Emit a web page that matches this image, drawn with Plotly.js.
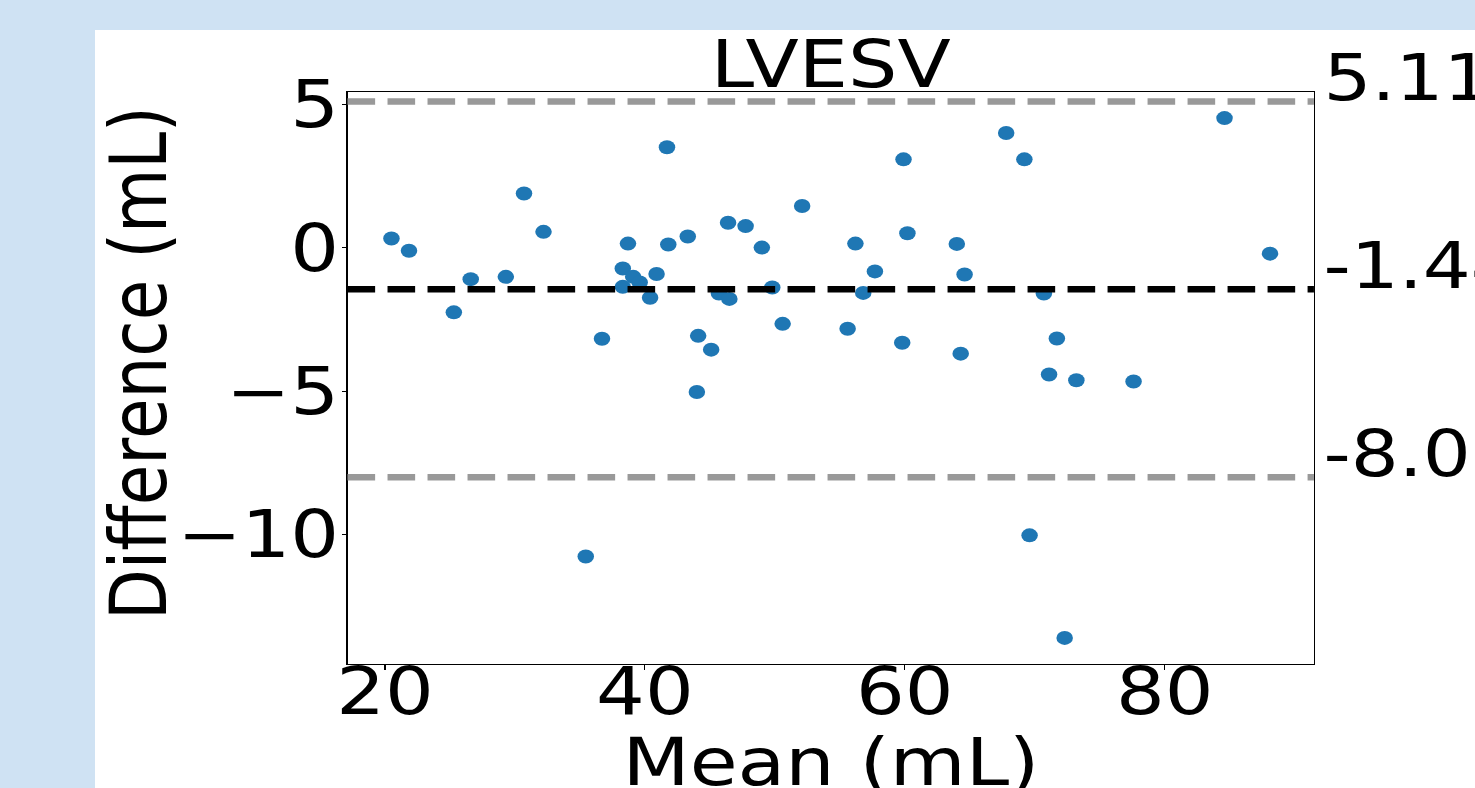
<!DOCTYPE html>
<html>
<head>
<meta charset="utf-8">
<script src="https://cdn.plot.ly/plotly-3.0.1.min.js"></script>
<style>
  html, body { margin: 0; padding: 0; width: 1475px; height: 788px; overflow: hidden; background: #cfe2f3; }
  #wrap { position: absolute; left: 95px; top: 30px; width: 1170px; height: 758px;
          transform: scaleX(1.18); transform-origin: 0 0; }
  #chart { width: 1170px; height: 758px; }
</style>
</head>
<body>
<div id="wrap"><div id="chart"></div></div>
<script>
// ---- data ----
const meanValues = [20.5, 21.85, 25.3, 26.6, 29.3, 30.7, 32.2, 35.45, 36.7, 38.3,
                    38.3, 38.7, 39.1, 39.6, 40.4, 40.9, 41.7, 41.8, 43.3, 44.0,
                    44.1, 45.1, 45.7, 46.4, 46.5, 47.75, 49.0, 49.8, 50.6, 52.1,
                    55.6, 56.2, 56.8, 57.7, 59.8, 59.9, 60.2, 64.0, 64.3, 64.6,
                    67.8, 69.2, 69.6, 70.7, 71.1, 71.7, 72.3, 73.2, 77.6, 84.6, 88.1];
const diffValues = [0.33, -0.10, -2.25, -1.09, -1.01, 1.90, 0.56, -10.77, -3.17, -0.72,
                    -1.36, 0.15, -1.01, -1.21, -1.74, -0.91, 3.51, 0.12, 0.40, -5.03,
                    -3.07, -3.55, -1.59, 0.88, -1.78, 0.76, 0.01, -1.38, -2.65, 1.46,
                    -2.82, 0.15, -1.57, -0.82, -3.31, 3.09, 0.51, 0.14, -3.69, -0.93,
                    4.01, 3.09, -10.03, -1.59, -4.42, -3.16, -13.61, -4.62, -4.66, 4.53, -0.20];
const limitValues = [5.11, -1.44, -8.00];
const limitLabels = ["5.11", "-1.44", "-8.00"];
const limitColors = ["#999999", "#000000", "#999999"];
const xTickValues = [20, 40, 60, 80];
const yTickValues = [5, 0, -5, -10];
const chartTitle = "LVESV";
const xTitle = "Mean (mL)";
const yTitle = "Difference (mL)";

const FONT = "DejaVu Sans, sans-serif";

const shapes = limitValues.map((v, i) => ({
  type: "line", xref: "paper", x0: 0, x1: 1, yref: "y", y0: v, y1: v,
  line: { color: limitColors[i], width: 6.5, dash: "23.4px,10.5px" },
  layer: "above"
}));

const annotations = limitValues.map((v, i) => ({
  xref: "paper", x: 1, xanchor: "left", xshift: 6,
  yref: "y", y: v, yanchor: "middle", yshift: 23,
  text: limitLabels[i], showarrow: false,
  font: { family: FONT, size: 64, color: "#000" }
}));

// axis titles placed as annotations for exact positioning
annotations.push({
  xref: "paper", x: 0.5, xanchor: "center",
  yref: "paper", y: 0, yanchor: "middle", yshift: -98,
  text: xTitle, showarrow: false,
  font: { family: FONT, size: 66, color: "#000" }
});
annotations.push({
  xref: "paper", x: 0, xanchor: "center", xshift: -177,
  yref: "paper", y: 0.5, yanchor: "middle", yshift: 15,
  textangle: -90,
  text: yTitle, showarrow: false,
  font: { family: FONT, size: 66, color: "#000" }
});

const trace = {
  type: "scatter", mode: "markers",
  x: meanValues, y: diffValues,
  marker: { color: "#1f77b4", size: 14, line: { width: 0 } },
  hoverinfo: "x+y", showlegend: false, cliponaxis: false
};

const layout = {
  width: 1170, height: 758,
  margin: { l: 213.6, r: 137.3, t: 61.7, b: 124, pad: 0, autoexpand: false },
  paper_bgcolor: "#ffffff", plot_bgcolor: "#ffffff",
  font: { family: FONT, color: "#000" },
  title: { text: chartTitle, font: { family: FONT, size: 66, color: "#000" },
           x: 0.5, xref: "paper", xanchor: "center",
           yref: "container", y: 1 - 57 / 758, yanchor: "bottom", pad: { t: 0, b: 0 } },
  xaxis: {
    range: [17.12, 91.48], tickvals: xTickValues, ticktext: xTickValues.map(String),
    showgrid: false, zeroline: false,
    showline: true, linecolor: "#000", linewidth: 1.2, mirror: true,
    ticks: "outside", ticklen: 5, tickwidth: 1.2, tickcolor: "#000",
    tickfont: { family: FONT, size: 65, color: "#000" },
    ticklabelstandoff: -34,
    automargin: false
  },
  yaxis: {
    range: [-14.52, 5.44], tickvals: yTickValues,
    showgrid: false, zeroline: false,
    showline: true, linecolor: "#000", linewidth: 1.2, mirror: true,
    ticks: "outside", ticklen: 4, tickwidth: 1.2, tickcolor: "#000",
    tickfont: { family: FONT, size: 65, color: "#000" },
    ticklabelstandoff: -11,
    automargin: false
  },
  shapes: shapes,
  annotations: annotations
};

Plotly.newPlot("chart", [trace], layout, { displayModeBar: false, responsive: false });
</script>
</body>
</html>
